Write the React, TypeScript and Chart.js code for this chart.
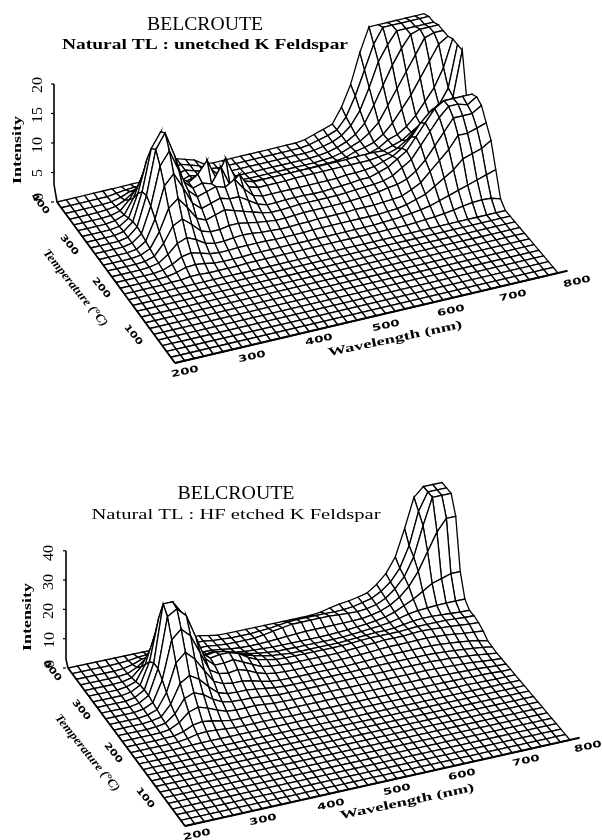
import React, { useEffect, useRef } from "react";
import { Chart, registerables } from "chart.js";
Chart.register(...registerables);

const wavelengths = [200,215,230,245,260,275,290,305,320,335,350,365,380,395,410,425,440,455,470,485,500,515,530,545,560,575,590,605,620,635,650,665,680,695,710,725,740,755,770,785,800];
const temperatures = [0,14.3,28.6,42.9,57.1,71.4,85.7,100,114.3,128.6,142.9,157.1,171.4,185.7,200,214.3,228.6,242.9,257.1,271.4,285.7,300,314.3,328.6,342.9,357.1,371.4,385.7,400];
const flatRow = [0,0,0,0,0,0,0,0,0,0,0,0,0,0,0,0,0,0,0,0,0,0,0,0,0,0,0,0,0,0,0,0,0,0,0,0,0,0,0,0,0];

const unetched = [
flatRow,flatRow,flatRow,flatRow,flatRow,flatRow,flatRow,flatRow,flatRow,flatRow,flatRow,flatRow,
[0,0,0,0,0,.1,.1,.3,.3,.2,.2,.2,.2,.3,.3,.3,.3,.3,.3,.3,.3,.3,.3,.3,.3,.3,.3,.3,.3,.3,.3,.4,.5,.6,.8,1,1.3,1.5,1.6,1.5,1],
[0,0,0,0,0,.1,.4,.9,1,.8,.5,.4,.4,.4,.5,.5,.5,.5,.5,.5,.5,.5,.5,.5,.5,.5,.5,.5,.6,.7,.8,1,1.2,1.5,2,2.5,3,3.5,4,4.5,5],
[0,0,0,0,0,.2,.8,1.7,2,1.6,1.1,.9,.9,1,1,1,1,.9,.9,.9,.9,1,1,1,1,1,1,1,1,1.1,1.2,1.5,2,2.5,3.5,4.5,5.5,7,7.5,8,9],
[0,0,0,0,.1,.4,1.5,3,3.6,2.9,1.9,1.5,1.5,1.7,1.8,1.7,1.5,1.4,1.3,1.3,1.4,1.4,1.5,1.5,1.5,1.5,1.6,1.6,1.6,1.7,1.8,2,2.7,3.5,5,6.5,8,10,10,10.5,11],
[0,0,0,0,.1,.6,2.4,5,5.8,4.5,3,2.5,2.5,2.8,2.8,2.5,2.2,2,1.8,1.8,1.9,2,2,2,2,2,2.1,2.2,2.3,2.5,2.8,3,3.5,4.5,6,8,10,12,12,12,13],
[0,0,0,0,.2,.9,3.4,7,8.3,6.4,4.2,3.5,4,4.5,4,3.5,3,2.5,2.2,2.2,2.3,2.4,2.4,2.4,2.4,2.4,2.5,2.6,2.7,2.8,3,3.5,4.5,5.5,7.5,9.5,11.5,13,13,12.5,13.5],
[0,0,0,0,.2,1.2,4.6,9.8,11.5,8.8,5.8,4.5,5,5.5,5,5,4,3,2.5,2.5,2.6,2.6,2.6,2.5,2.5,2.6,2.7,2.8,3,3,3.5,4,5,6,8,10,12,13,13,13,13],
[0,0,0,0,.3,1.5,5.8,12.2,14.4,10.8,7,5.5,6,6.5,6,7,5,3.5,3,3,3,3,3,3,3,3,3,3.2,3.2,3.3,3.5,4,4.5,5.5,7,9,10.5,11.5,11.5,11,10.5],
[0,0,0,0,.3,1.7,6.6,14,16.5,12.4,7.5,6,6.5,6,8.5,5,6.5,4,3.5,3.5,3.5,3.5,3.6,3.6,3.6,3.6,3.6,3.6,3.6,3.6,3.6,3.8,4,4.5,5.5,7,8,8.5,9,11,18.5],
[0,0,0,0,.3,1.6,6.3,13.3,15.7,11.8,7.3,6,7,9,5.5,8.6,5,4,3.5,3.5,3.5,3.5,3.5,3.5,3.5,3.5,3.5,3.5,3.5,3.6,3.6,3.6,3.5,4,4.5,5.5,6.5,7.5,9,11.5,18.5],
[0,0,0,0,.2,1.2,5,10.5,12.4,9.3,6,5,5.5,5.5,6,4.5,3.5,3,2.5,2.2,2,2,2,2,2,2,2,2,2.1,2.2,2.3,2.5,3,4,4.5,5.5,7,9,11,14,18.5],
[0,0,0,0,.2,.8,3.3,7,8.3,6.2,4,3.5,3.5,3.5,3.5,3,2.5,2,1.5,1.3,1.2,1.2,1.2,1.2,1.2,1.2,1.3,1.3,1.4,1.6,2.2,2.5,3,4,5.5,7.5,9.5,12,14.5,17,18],
[0,0,0,0,.1,.5,2,4.2,5,3.8,2.5,2.2,2.5,2.8,2.5,2,1.5,1,.9,.8,.8,.8,.8,.8,.8,.8,.8,.9,1,1.4,2,2.6,3.6,5,7.5,10,12.5,15,17.5,18,18],
[0,0,0,0,.1,.3,1,2.1,2.5,1.9,1.3,1.5,2,2.5,2.2,1.7,1,.7,.6,.6,.6,.6,.6,.6,.6,.6,.6,.7,.9,1.3,1.9,2.8,4.3,7,10,13,15.5,17.5,18,18,18],
[0,0,0,0,0,.1,.5,1.1,1.3,1,.8,1,2,2.5,2,1.6,.8,.5,.5,.5,.5,.5,.5,.5,.5,.5,.5,.6,.9,1.3,2,3.3,5.5,9,13,15.5,17.5,17.5,17.5,17.5,17.5],
[0,0,0,0,0,0,.2,.4,.5,.4,.3,1,2,2.5,2,1.5,.6,.4,.4,.4,.4,.4,.4,.4,.4,.4,.4,.6,1,1.4,2,3.8,7,11,15,17.5,17.5,17.5,17.5,17.5,17.5],
[0,0,0,0,0,0,0,0,0,0,0,1,2,2.5,2,1.5,.5,.3,.3,.3,.3,.3,.3,.3,.3,.3,.3,.5,1,1.5,2,4.5,8,13,17,17,17,17,17,17,17],
];

const hfEtched = [
flatRow,flatRow,flatRow,flatRow,flatRow,flatRow,flatRow,flatRow,flatRow,flatRow,flatRow,flatRow,
[0,0,0,0,0,.1,.2,.3,.3,.3,.3,.3,.3,.3,.3,.3,.3,.3,.3,.3,.3,.3,.3,.3,.3,.3,.3,.3,.3,.3,.3,.3,.2,.2,.2,.2,.1,.1,0,0,0],
[0,0,0,0,0,.1,.5,1.3,1.5,1.3,1,.7,.7,.7,.7,.7,.6,.5,.5,.5,.5,.5,.5,.5,.5,.5,.5,.5,.5,.5,.5,.5,.5,.5,.4,.4,.3,.3,.2,0,0],
[0,0,0,0,.1,.2,1,2.5,3,2.5,1.8,1.3,1.2,1.3,1.3,1.2,1,1,1,1,1,1,1,1,1,1,1,1,1,1,1,1,1,.9,.8,.7,.6,.5,.3,.1,0],
[0,0,0,0,.1,.5,2.1,5,6,5,3.6,2.5,2.2,2.2,2.3,2,1.7,1.6,1.5,1.5,1.5,1.5,1.5,1.5,1.5,1.5,1.5,1.5,1.5,1.5,1.5,1.5,1.5,1.4,1.3,1.1,1,.8,.5,.2,0],
[0,0,0,0,.2,.7,3.2,7.7,9,7.7,5.4,3.8,3.2,3,3,2.7,2.3,2,2,2,2,2,2,2,2,2,2,2,2,2,2,2,2,2,1.8,1.7,1.4,1.2,.8,.4,0],
[0,0,0,0,.3,1,4.6,11,13,11,7.8,5,4,3.8,3.8,3.4,3,2.5,2.3,2.2,2.2,2.2,2.2,2.2,2.2,2.2,2.3,2.3,2.4,2.4,2.4,2.4,2.4,2.4,2.3,2.1,1.8,1.5,1.2,.8,.3],
[0,0,0,0,.4,1.5,6.6,16,19,16,11.4,7,5.5,5,5,4.4,3.5,2.8,2.5,2.4,2.4,2.4,2.4,2.4,2.4,2.4,2.5,2.6,2.8,2.9,3,3,3,3,3,2.8,2.5,2.2,1.8,1.3,.5],
[0,0,0,0,.5,2,9,22,25,22,15.6,9,7,6.5,7,6,4.5,3.5,3,2.8,2.7,2.7,2.7,2.7,2.7,2.8,2.9,3,3.2,3.4,3.6,3.6,3.6,3.7,3.8,3.6,3.4,3,2.6,2.3,2],
[0,0,0,0,.6,2.5,11,28,30,27,19,11,8,8,8.5,7,5.5,4,3.5,3.2,3,3,3,3,3,3,3.2,3.4,3.6,3.8,4,4,4,4.2,4.4,4.2,4,3.8,3.5,3.2,3],
[0,0,0,0,.6,2.5,11,30.5,30.5,26,19,11,8.5,9,9,8,6,4.5,3.8,3.2,3,3,3,3,3,3,3,3.2,3.4,3.6,3.6,3.6,3.6,3.8,4,4,4,4,3.8,3.6,3.5],
[0,0,0,0,.5,2.2,9.5,24,27,23,16,9.5,7.5,8,7.5,6.5,5,4,3.2,2.6,2.3,2,2,2,2,2,2,2.2,2.4,2.6,2.8,2.8,3,3.5,4,4.2,4.2,4,3.8,3.6,3.5],
[0,0,0,0,.4,1.5,6.7,16,19,16,11.4,7,5.5,6,5.5,4.5,3.5,2.8,2.2,1.8,1.5,1.5,1.4,1.4,1.4,1.4,1.4,1.5,1.7,2,2.3,2.6,3,3.7,4.5,5,5.2,5.4,5.5,5.5,5.5],
[0,0,0,0,.2,.9,3.9,9.4,11,9.4,6.5,4,3.3,3.5,3.2,2.6,2,1.6,1.4,1.2,1,1,1,1,1,1,1.1,1.2,1.4,1.7,2,2.4,3,4,5.5,7,9,11,12,13,13],
[0,0,0,0,.1,.4,1.8,4.3,5,4.3,3,2,2,2.3,2.2,1.8,1.3,1,.9,.9,1,1.2,1.4,1.6,1.8,1.8,1.8,1.8,1.8,1.9,2,2.5,3.2,4.5,6.5,9.5,14,20,26,30,30],
[0,0,0,0,0,.2,.9,2.1,2.5,2.1,1.5,1.2,1.3,1.7,1.7,1.3,1,.9,.9,1,1.4,2,2.5,3,3,3,3,3,2.8,2.6,2.5,2.8,3.5,5,7.5,11,17,27,36,36,36],
[0,0,0,0,0,.1,.3,.8,1,.8,.6,.7,1,1.5,1.5,1,.8,.6,.6,.6,.8,1,1.4,1.8,2,2,2,2,1.9,2,2.3,3,3.8,5.5,8,12,19,30,36,36,36],
[0,0,0,0,0,0,0,0,0,0,0,.3,1,1.5,1.5,.8,.3,.2,.2,.2,.2,.2,.2,.2,.2,.2,.3,.6,1.4,2,2.4,3,3.8,6,9,14,23,33,36,36,36],
];

const intensityTicksA = [0,5,10,15,20];
const intensityTicksB = [0,10,20,30,40];

type Label = { text: string; x: number; y: number; w: number; rot: number; font: string; };
const tickFont = "bold 9px 'DejaVu Sans'";
const axisFont = "bold 12px 'Liberation Serif'";
const tempFont = "italic bold 12px 'Liberation Serif'";
const yFont = "14px 'Liberation Serif'";

const labelsA: Label[] = [
  { text: "BELCROUTE", x: 205, y: 25, w: 116, rot: 0, font: "19px 'Liberation Serif'" },
  { text: "Natural TL : unetched K Feldspar", x: 205, y: 45, w: 286, rot: 0, font: "bold 15px 'Liberation Serif'" },
  { text: "Intensity", x: 18, y: 150, w: 68, rot: -90, font: axisFont },
  { text: "20", x: 38, y: 85, w: 16, rot: -90, font: yFont },
  { text: "15", x: 38, y: 115, w: 16, rot: -90, font: yFont },
  { text: "10", x: 38, y: 145, w: 16, rot: -90, font: yFont },
  { text: "5", x: 38, y: 173, w: 8, rot: -90, font: yFont },
  { text: "0", x: 39, y: 197, w: 8, rot: -90, font: yFont },
  { text: "400", x: 40, y: 204, w: 24, rot: 51, font: tickFont },
  { text: "300", x: 69, y: 245, w: 24, rot: 51, font: tickFont },
  { text: "200", x: 101, y: 288, w: 24, rot: 51, font: tickFont },
  { text: "100", x: 133, y: 335, w: 24, rot: 51, font: tickFont },
  { text: "Temperature (°C)", x: 75, y: 288, w: 96, rot: 51, font: tempFont },
  { text: "200", x: 185, y: 372, w: 28, rot: -12, font: tickFont },
  { text: "300", x: 252, y: 357, w: 28, rot: -12, font: tickFont },
  { text: "400", x: 319, y: 340, w: 28, rot: -12, font: tickFont },
  { text: "500", x: 386, y: 326, w: 28, rot: -12, font: tickFont },
  { text: "600", x: 451, y: 311, w: 28, rot: -12, font: tickFont },
  { text: "700", x: 513, y: 296, w: 28, rot: -12, font: tickFont },
  { text: "800", x: 577, y: 282, w: 28, rot: -12, font: tickFont },
  { text: "Wavelength (nm)", x: 395, y: 339, w: 137, rot: -12, font: axisFont },
];
const labelsB: Label[] = [
  { text: "BELCROUTE", x: 236, y: 494, w: 117, rot: 0, font: "19px 'Liberation Serif'" },
  { text: "Natural TL : HF etched K Feldspar", x: 236, y: 515, w: 289, rot: 0, font: "15px 'Liberation Serif'" },
  { text: "Intensity", x: 28, y: 617, w: 68, rot: -90, font: axisFont },
  { text: "40", x: 49, y: 553, w: 16, rot: -90, font: yFont },
  { text: "30", x: 49, y: 582, w: 16, rot: -90, font: yFont },
  { text: "20", x: 49, y: 611, w: 16, rot: -90, font: yFont },
  { text: "10", x: 50, y: 640, w: 16, rot: -90, font: yFont },
  { text: "0", x: 50, y: 664, w: 8, rot: -90, font: yFont },
  { text: "400", x: 52, y: 671, w: 24, rot: 51, font: tickFont },
  { text: "300", x: 81, y: 710, w: 24, rot: 51, font: tickFont },
  { text: "200", x: 113, y: 753, w: 24, rot: 51, font: tickFont },
  { text: "100", x: 145, y: 798, w: 24, rot: 51, font: tickFont },
  { text: "Temperature (°C)", x: 87, y: 753, w: 96, rot: 51, font: tempFont },
  { text: "200", x: 197, y: 835, w: 28, rot: -12, font: tickFont },
  { text: "300", x: 263, y: 820, w: 28, rot: -12, font: tickFont },
  { text: "400", x: 331, y: 805, w: 28, rot: -12, font: tickFont },
  { text: "500", x: 397, y: 790, w: 28, rot: -12, font: tickFont },
  { text: "600", x: 462, y: 775, w: 28, rot: -12, font: tickFont },
  { text: "700", x: 526, y: 761, w: 28, rot: -12, font: tickFont },
  { text: "800", x: 588, y: 747, w: 28, rot: -12, font: tickFont },
  { text: "Wavelength (nm)", x: 407, y: 802, w: 137, rot: -12, font: axisFont },
];

// Floor corners of the oblique view and the height scale, in page pixels.
const viewA = { bl: [175, 363], br: [558, 273], tl: [57, 202], tr: [424, 114], perUnit: 5.9, axisDx: -3 };
const viewB = { bl: [185, 826], br: [570, 740], tl: [68, 668], tr: [442, 588], perUnit: 2.93, axisDx: -2 };

function project(v: typeof viewA, wl: number, T: number, I: number) {
  const u = (wl - 200) / 600, t = T / 400;
  const mix = (k: 0 | 1) => (1 - u) * (1 - t) * v.bl[k] + u * (1 - t) * v.br[k] + (1 - u) * t * v.tl[k] + u * t * v.tr[k];
  return { x: mix(0), y: mix(1) - I * v.perUnit };
}

function buildDatasets(v: typeof viewA, grid: number[][], ticks: number[]) {
  const line = (data: { x: number; y: number }[], width: number) => ({
    data, borderColor: "#000", borderWidth: width, pointRadius: 0, tension: 0, fill: false, showLine: true, clip: false,
  });
  const sets: any[] = [];
  // Front edge, left edge, and the little run-out past 800 nm lie on top.
  sets.push(line([project(v, 200, 0, 0), project(v, 815, 0, 0)], 2));
  sets.push(line([project(v, 200, 0, 0), project(v, 200, 400, 0)], 1.6));
  const origin = project(v, 200, 400, 0);
  const axisTop = ticks[ticks.length - 1];
  const shift = (p: { x: number; y: number }) => ({ x: p.x + v.axisDx, y: p.y });
  sets.push(line([origin, shift(project(v, 200, 400, 3)), shift(project(v, 200, 400, axisTop))], 1.6));
  for (const tick of ticks) {
    const p = shift(project(v, 200, 400, tick));
    sets.push(line([p, { x: p.x - 3, y: p.y }], 1.2));
  }
  // Nearest cell first: Chart.js paints dataset 0 last, so each cell hides what is behind it.
  for (let r = 0; r < temperatures.length - 1; r++) {
    for (let c = 0; c < wavelengths.length - 1; c++) {
      const corner = (rr: number, cc: number) => project(v, wavelengths[cc], temperatures[rr], grid[rr][cc]);
      sets.push(line([corner(r, c), corner(r, c + 1), corner(r + 1, c + 1), corner(r + 1, c), corner(r, c)], 1.3));
    }
  }
  return sets;
}

function Panel({ view, grid, ticks, labels, top }: any) {
  const ref = useRef<HTMLCanvasElement>(null);
  useEffect(() => {
    const cellFill = {
      id: "cellFill",
      beforeDatasetDraw(chart: any, args: any) {
        const pts = args.meta.data;
        if (pts.length !== 5) return;
        const ctx = chart.ctx;
        ctx.save();
        ctx.beginPath();
        pts.forEach((p: any, i: number) => (i ? ctx.lineTo(p.x, p.y) : ctx.moveTo(p.x, p.y)));
        ctx.closePath();
        ctx.fillStyle = "#fff";
        ctx.fill();
        ctx.restore();
      },
    };
    const textLayer = {
      id: "textLayer",
      afterDraw(chart: any) {
        const ctx = chart.ctx;
        for (const l of labels as Label[]) {
          ctx.save();
          ctx.font = l.font;
          ctx.fillStyle = "#000";
          ctx.textAlign = "center";
          ctx.textBaseline = "middle";
          const natural = ctx.measureText(l.text).width;
          ctx.translate(l.x, l.y - top);
          ctx.rotate((l.rot * Math.PI) / 180);
          ctx.scale(l.w / natural, 1);
          ctx.fillText(l.text, 0, 0);
          ctx.restore();
        }
      },
    };
    const chart = new Chart(ref.current!, {
      type: "scatter",
      data: { datasets: buildDatasets(view, grid, ticks) },
      options: {
        animation: false,
        responsive: false,
        events: [],
        layout: { padding: 0 },
        plugins: { legend: { display: false }, tooltip: { enabled: false }, title: { display: false } },
        scales: {
          x: { type: "linear", min: 0, max: 602, display: false },
          y: { type: "linear", min: top, max: top + 420, reverse: true, display: false },
        },
      },
      plugins: [cellFill, textLayer],
    } as any);
    return () => chart.destroy();
  }, []);
  return <canvas ref={ref} width={602} height={420} style={{ position: "absolute", left: 0, top, width: 602, height: 420 }} />;
}

export default function App() {
  return (
    <div style={{ position: "absolute", left: 0, top: 0, width: 602, height: 840, background: "#fff" }}>
      <Panel view={viewA} grid={unetched} ticks={intensityTicksA} labels={labelsA} top={0} />
      <Panel view={viewB} grid={hfEtched} ticks={intensityTicksB} labels={labelsB} top={420} />
    </div>
  );
}
